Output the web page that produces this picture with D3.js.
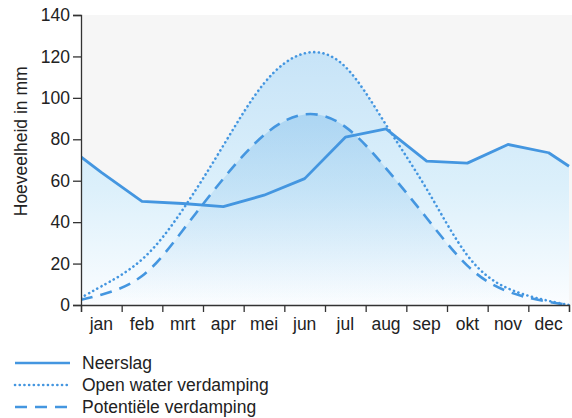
<!DOCTYPE html>
<html>
<head>
<meta charset="utf-8">
<script src="https://cdn.jsdelivr.net/npm/d3@7"></script>
<style>
  body { margin: 0; background: #fff; }
  text { font-family: "Liberation Sans", Arial, sans-serif; fill: #222; }
</style>
</head>
<body>
<div id="chart"></div>
<script>
// months and monthly values (mm)
const months = ["jan", "feb", "mrt", "apr", "mei", "jun", "jul", "aug", "sep", "okt", "nov", "dec"];
const neerslag = [64, 50, 49, 47.5, 53, 61, 81, 85, 69.5, 68.5, 77.5, 73.5];
const openWater = [9, 22, 46, 77, 107, 121.5, 115, 87, 56, 24, 8, 2];
const potentieel = [5, 14, 36, 61, 82, 92, 86, 66, 42, 19, 6.5, 1.5];
// values at the start of jan and the end of dec
const neerslagEdges = [71.5, 67];
const openWaterEdges = [3.5, 0];
const potentieelEdges = [2.5, 0];
const yTicks = [0, 20, 40, 60, 80, 100, 120, 140];

const width = 572, height = 418;
const margin = { top: 15, right: 3, bottom: 113, left: 81 };
const lineColor = "#4496e0";

const svg = d3.select("#chart")
    .append("svg")
    .attr("width", width)
    .attr("height", height);

// scales
const x = d3.scaleLinear()
    .domain([0, 12])
    .range([margin.left, width - margin.right]);
const xBand = d3.scaleBand()
    .domain(months)
    .range(x.range());
const y = d3.scaleLinear()
    .domain([0, 140])
    .range([height - margin.bottom, margin.top]);

// turn a monthly series + its edge values into points
function points(values, edges) {
    const pts = [[0, edges[0]]];
    values.forEach((v, i) => pts.push([i + 0.5, v]));
    pts.push([12, edges[1]]);
    return pts;
}

const defs = svg.append("defs");
const g1 = defs.append("linearGradient")
    .attr("id", "fillLight")
    .attr("gradientUnits", "userSpaceOnUse")
    .attr("x1", 0).attr("x2", 0)
    .attr("y1", y(125)).attr("y2", y(0));
g1.append("stop").attr("offset", 0).attr("stop-color", "#c6e3f7");
g1.append("stop").attr("offset", 0.55).attr("stop-color", "#dcf0fb");
g1.append("stop").attr("offset", 1).attr("stop-color", "#fbfdff");

const g2 = defs.append("linearGradient")
    .attr("id", "fillDark")
    .attr("gradientUnits", "userSpaceOnUse")
    .attr("x1", 0).attr("x2", 0)
    .attr("y1", y(95)).attr("y2", y(0));
g2.append("stop").attr("offset", 0).attr("stop-color", "#6fb4e8").attr("stop-opacity", 0.38);
g2.append("stop").attr("offset", 1).attr("stop-color", "#6fb4e8").attr("stop-opacity", 0);

const clip = defs.append("clipPath").attr("id", "plotClip");

// plot background
svg.append("rect")
    .attr("x", x(0))
    .attr("y", y(140))
    .attr("width", width - x(0))
    .attr("height", y(0) - y(140))
    .attr("fill", "#f6f6f6");
clip.append("rect")
    .attr("x", x(0))
    .attr("y", y(140))
    .attr("width", width - x(0))
    .attr("height", y(0) - y(140));

const smooth = d3.curveNatural;

const areaSmooth = d3.area()
    .x(d => x(d[0]))
    .y0(y(0))
    .y1(d => y(d[1]))
    .curve(smooth);
const areaLinear = d3.area()
    .x(d => x(d[0]))
    .y0(y(0))
    .y1(d => y(d[1]));

const lineSmooth = d3.line()
    .x(d => x(d[0]))
    .y(d => y(d[1]))
    .curve(smooth);
const lineLinear = d3.line()
    .x(d => x(d[0]))
    .y(d => y(d[1]));

const nPts = points(neerslag, neerslagEdges);
const oPts = points(openWater, openWaterEdges);
const pPts = points(potentieel, potentieelEdges);

const plot = svg.append("g").attr("clip-path", "url(#plotClip)");

// fills
plot.append("path").attr("d", areaSmooth(oPts)).attr("fill", "url(#fillLight)");
plot.append("path").attr("d", areaLinear(nPts)).attr("fill", "url(#fillLight)");
plot.append("path").attr("d", areaSmooth(pPts)).attr("fill", "url(#fillDark)");

// lines
plot.append("path")
    .attr("d", lineSmooth(oPts))
    .attr("fill", "none")
    .attr("stroke", lineColor)
    .attr("stroke-width", 2.6)
    .attr("stroke-linecap", "round")
    .attr("stroke-dasharray", "0.1 4.6");
plot.append("path")
    .attr("d", lineSmooth(pPts))
    .attr("fill", "none")
    .attr("stroke", lineColor)
    .attr("stroke-width", 2.6)
    .attr("stroke-dasharray", "12 8");
plot.append("path")
    .attr("d", lineLinear(nPts))
    .attr("fill", "none")
    .attr("stroke", lineColor)
    .attr("stroke-width", 2.8)
    .attr("stroke-linejoin", "round");

// y axis
const yAxis = svg.append("g")
    .attr("transform", `translate(${x(0)},0)`)
    .call(d3.axisLeft(y).tickValues(yTicks).tickSize(8).tickPadding(3));
yAxis.selectAll("text").style("font-size", "17.5px");

// x axis: ticks between months, labels centred in each month
const xAxis = svg.append("g")
    .attr("transform", `translate(0,${y(0)})`)
    .call(d3.axisBottom(x).tickValues(d3.range(13)).tickSize(7).tickFormat(""));
const xLabels = svg.append("g")
    .attr("transform", `translate(0,${y(0)})`)
    .call(d3.axisBottom(xBand).tickSize(0).tickPadding(13));
xLabels.select(".domain").remove();
xLabels.selectAll("text").style("font-size", "17.5px");

svg.selectAll(".domain, .tick line")
    .attr("stroke", "#333")
    .attr("stroke-width", 1.3);

// y axis title
svg.append("text")
    .attr("transform", `translate(27,${y(79)}) rotate(-90)`)
    .attr("text-anchor", "middle")
    .style("font-size", "17.5px")
    .text("Hoeveelheid in mm");

// legend
const legendItems = [
    { label: "Neerslag", dash: null, cap: "butt" },
    { label: "Open water verdamping", dash: "0.1 4.6", cap: "round" },
    { label: "Potentiële verdamping", dash: "12 8", cap: "butt" }
];
const legend = svg.append("g").attr("transform", "translate(15,363)");
legendItems.forEach((item, i) => {
    const row = legend.append("g").attr("transform", `translate(0,${i * 22})`);
    row.append("line")
        .attr("x1", 0).attr("x2", 55)
        .attr("stroke", lineColor)
        .attr("stroke-width", 2.6)
        .attr("stroke-linecap", item.cap)
        .attr("stroke-dasharray", item.dash);
    row.append("text")
        .attr("x", 67)
        .attr("dy", "0.35em")
        .style("font-size", "17.5px")
        .text(item.label);
});
</script>
</body>
</html>
